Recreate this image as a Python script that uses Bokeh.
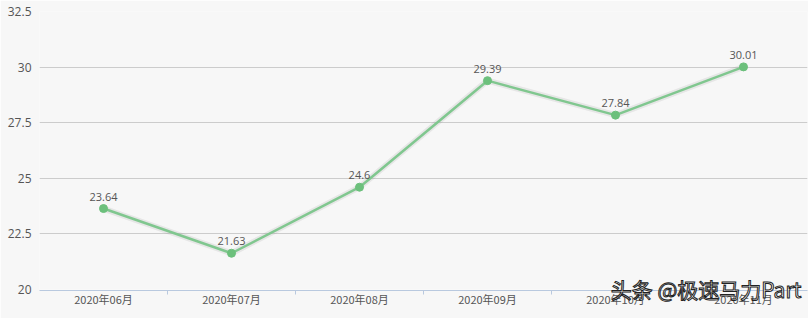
from bokeh.plotting import figure
from bokeh.models import Range1d, FixedTicker, ColumnDataSource, Title
from bokeh.embed import file_html
from bokeh.resources import INLINE

categories = ["2020年06月", "2020年07月", "2020年08月", "2020年09月", "2020年10月", "2020年11月"]
values = [23.64, 21.63, 24.6, 29.39, 27.84, 30.01]
value_labels = ["23.64", "21.63", "24.6", "29.39", "27.84", "30.01"]
y_ticks = [20, 22.5, 25, 27.5, 30, 32.5]
watermark = "头条 @极速马力Part"

xs = [i + 0.5 for i in range(len(categories))]
src = ColumnDataSource(dict(x=xs, y=values, lab=value_labels))

BG = "#f7f7f7"
p = figure(width=808, height=318, output_backend="svg", toolbar_location=None,
           x_range=Range1d(0, len(categories)), y_range=Range1d(20, 32.5),
           min_border_left=39, min_border_right=1, min_border_top=11, min_border_bottom=29)
p.background_fill_color = BG
p.border_fill_color = BG
p.outline_line_color = None

xa = p.xaxis[0]
xa.ticker = FixedTicker(ticks=xs, minor_ticks=list(range(1, len(categories))))
xa.major_label_overrides = {x: c for x, c in zip(xs, categories)}
xa.axis_line_color = "#b9c9df"
xa.major_tick_line_color = None
xa.major_tick_out = 0
xa.major_tick_in = 0
xa.minor_tick_line_color = "#b9c9df"
xa.minor_tick_out = 4
xa.minor_tick_in = 0
xa.major_label_text_font = "Noto Sans CJK SC"
xa.major_label_text_font_size = "11px"
xa.major_label_text_color = "#555555"
xa.major_label_standoff = -4

p.yaxis.ticker = FixedTicker(ticks=y_ticks)
p.yaxis.axis_line_color = None
p.yaxis.major_tick_line_color = None
p.yaxis.major_tick_out = 0
p.yaxis.major_tick_in = 0
p.yaxis.minor_tick_line_color = None
p.yaxis.major_label_text_font = "Open Sans"
p.yaxis.major_label_text_font_size = "12px"
p.yaxis.major_label_text_color = "#555555"
p.yaxis.major_label_standoff = 8

p.xgrid.grid_line_color = None
p.ygrid.ticker = FixedTicker(ticks=y_ticks[1:])
p.ygrid.grid_line_color = "#cccccc"

p.line("x", "y", source=src, line_width=6, line_color="#888888", line_alpha=0.15)
p.line("x", "y", source=src, line_width=2.5, line_color="#80c78f")
p.scatter("x", "y", source=src, size=8, fill_color="#6cc07c", line_color="#6cc07c")
p.text("x", "y", text="lab", source=src, text_align="center", text_baseline="bottom",
       y_offset=-8, text_font_size="11px", text_color="#555555", text_font={"value": "Open Sans"})

wm = Title(text=watermark, align="right", vertical_align="top", text_font="Noto Sans CJK SC",
           text_font_size="21px", text_font_style="normal", text_color="white",
           text_outline_color="#222222", standoff=-31, offset=6)
p.below = [wm, xa]

open("out.html", "w").write(file_html(p, INLINE))
